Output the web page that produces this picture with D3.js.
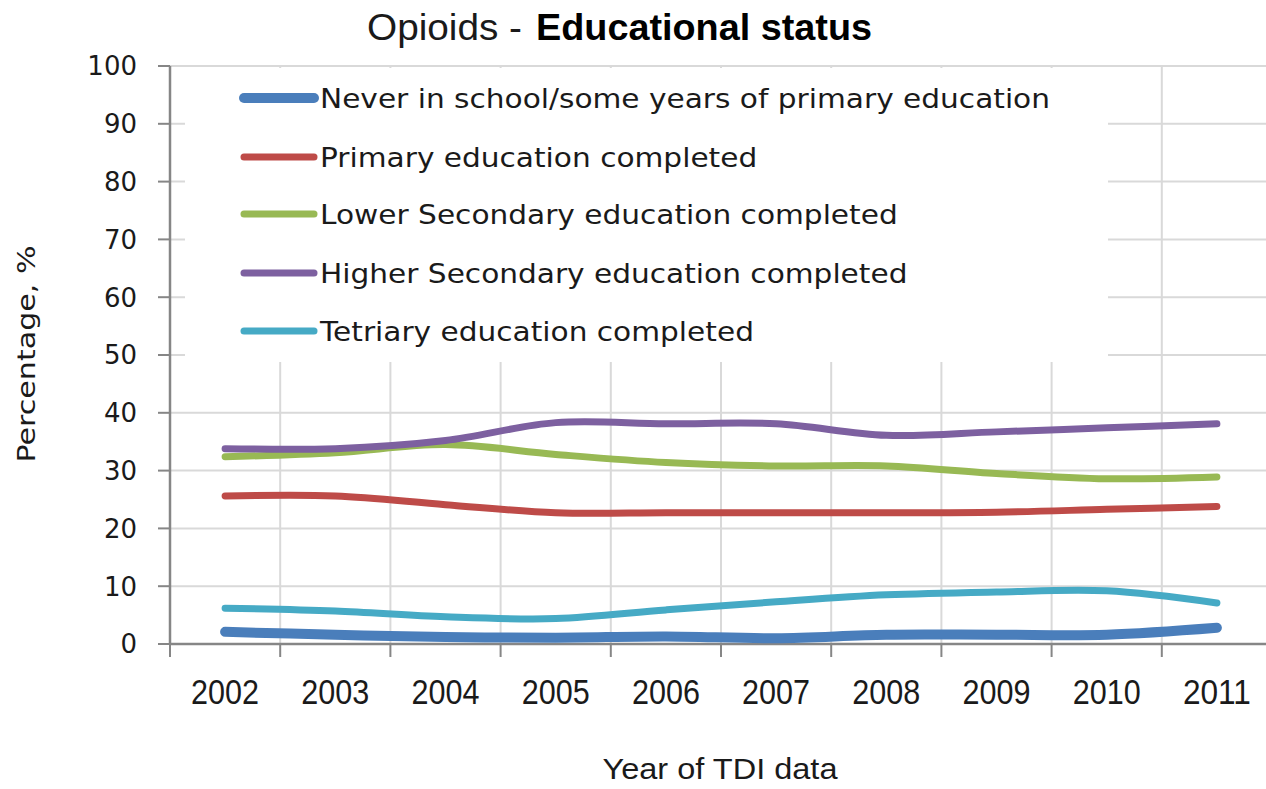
<!DOCTYPE html>
<html>
<head>
<meta charset="utf-8">
<script src="https://cdn.jsdelivr.net/npm/d3@7/dist/d3.min.js"></script>
<style>
  html, body { margin: 0; padding: 0; background: #fff; }
  svg { display: block; }
</style>
</head>
<body>
<svg id="chart" width="1266" height="789"></svg>
<script>
// Opioid clients by educational status, TDI data 2002-2011 (percent)
const years = ["2002","2003","2004","2005","2006","2007","2008","2009","2010","2011"];
const seriesNames = [
  "Never in school/some years of primary education",
  "Primary education completed",
  "Lower Secondary education completed",
  "Higher Secondary education completed",
  "Tetriary education completed"
];
const neverInSchool   = [2.1, 1.6, 1.2, 1.1, 1.3, 1.0, 1.6, 1.6, 1.6, 2.8];
const primary         = [25.6, 25.6, 24.1, 22.7, 22.7, 22.7, 22.7, 22.8, 23.3, 23.8];
const lowerSecondary  = [32.4, 33.1, 34.5, 32.8, 31.4, 30.8, 30.8, 29.5, 28.6, 28.9];
const higherSecondary = [33.8, 33.8, 35.2, 38.3, 38.1, 38.1, 36.1, 36.7, 37.4, 38.1];
const tertiary        = [6.2, 5.7, 4.7, 4.4, 5.9, 7.3, 8.5, 9.0, 9.2, 7.1];
const yTicks = [0, 10, 20, 30, 40, 50, 60, 70, 80, 90, 100];
const colors = ["#4A7EBB", "#BE4B48", "#98B954", "#7D60A0", "#46AAC5"];

const seriesValues = [neverInSchool, primary, lowerSecondary, higherSecondary, tertiary];

const svg = d3.select("#chart");
svg.append("rect").attr("width", 1266).attr("height", 789).attr("fill", "#fff");

const plotLeft = 170, plotRight = 1272, plotTop = 66, plotBottom = 644;
const x = d3.scaleBand().domain(years).range([plotLeft, plotRight]);
const y = d3.scaleLinear().domain([0, 100]).range([plotBottom, plotTop]);

// grid
const grid = svg.append("g");
grid.selectAll("line.h").data(yTicks.filter(t => t > 0)).join("line")
  .attr("x1", plotLeft).attr("x2", plotRight)
  .attr("y1", d => y(d)).attr("y2", d => y(d))
  .attr("stroke", "#d9d9d9").attr("stroke-width", 2);
grid.selectAll("line.v").data(d3.range(1, years.length + 1)).join("line")
  .attr("x1", i => plotLeft + x.step() * i)
  .attr("x2", i => plotLeft + x.step() * i)
  .attr("y1", plotTop).attr("y2", plotBottom)
  .attr("stroke", "#d9d9d9").attr("stroke-width", 2);

// legend box (white, drawn over the grid)
const legend = svg.append("g");
legend.append("rect")
  .attr("x", 185).attr("y", 68).attr("width", 923).attr("height", 294)
  .attr("fill", "#fff");

const legendRowY = [98, 157, 214, 273, 331];
const legendFont = "DejaVu Sans, Verdana, sans-serif";
const rows = legend.selectAll("g.row").data(seriesNames).join("g");
rows.append("line")
  .attr("x1", 244).attr("x2", 314)
  .attr("y1", (d, i) => legendRowY[i]).attr("y2", (d, i) => legendRowY[i])
  .attr("stroke", (d, i) => colors[i])
  .attr("stroke-width", (d, i) => i === 0 ? 10 : 7)
  .attr("stroke-linecap", "round");
const legendTexts = rows.append("text")
  .attr("x", 320).attr("y", (d, i) => legendRowY[i] + 10)
  .attr("font-family", legendFont).attr("font-size", 27)
  .attr("fill", "#1a1a1a")
  .text(d => d);
// stretch the labels uniformly so the longest spans its row
const longest = legendTexts.nodes()[0].getComputedTextLength();
const stretch = 730 / longest;
legendTexts.each(function () {
  const w = this.getComputedTextLength();
  d3.select(this).attr("textLength", w * stretch).attr("lengthAdjust", "spacingAndGlyphs");
});

// axes
const axisColor = "#868686";
const yAxis = svg.append("g");
yAxis.append("line").attr("x1", plotLeft).attr("x2", plotLeft).attr("y1", plotTop).attr("y2", plotBottom)
  .attr("stroke", axisColor).attr("stroke-width", 2.5);
yAxis.selectAll("line.t").data(yTicks).join("line")
  .attr("x1", 158).attr("x2", plotLeft)
  .attr("y1", d => y(d)).attr("y2", d => y(d))
  .attr("stroke", axisColor).attr("stroke-width", 2);
yAxis.selectAll("text").data(yTicks).join("text")
  .attr("x", 137).attr("y", d => y(d))
  .attr("dy", "0.36em")
  .attr("text-anchor", "end")
  .attr("font-family", legendFont).attr("font-size", 26)
  .attr("fill", "#1a1a1a")
  .text(d => d);

const xAxis = svg.append("g");
xAxis.append("line").attr("x1", plotLeft).attr("x2", plotRight).attr("y1", plotBottom).attr("y2", plotBottom)
  .attr("stroke", axisColor).attr("stroke-width", 2.5);
xAxis.selectAll("line.t").data(d3.range(years.length + 1)).join("line")
  .attr("x1", i => plotLeft + x.step() * i).attr("x2", i => plotLeft + x.step() * i)
  .attr("y1", plotBottom).attr("y2", plotBottom + 13)
  .attr("stroke", axisColor).attr("stroke-width", 2);
const narrowFont = "Liberation Sans Narrow, Liberation Sans, Arial, sans-serif";
xAxis.selectAll("text").data(years).join("text")
  .attr("x", d => x(d) + x.bandwidth() / 2).attr("y", 704)
  .attr("text-anchor", "middle")
  .attr("font-family", narrowFont).attr("font-size", 35)
  .attr("fill", "#1a1a1a")
  .attr("textLength", 68).attr("lengthAdjust", "spacingAndGlyphs")
  .text(d => d);

// series lines
const line = d3.line()
  .x((d, i) => x(years[i]) + x.bandwidth() / 2)
  .y(d => y(d))
  .curve(d3.curveCatmullRom.alpha(0.5));
const drawOrder = [4, 1, 2, 3, 0];
svg.append("g").selectAll("path").data(drawOrder).join("path")
  .attr("d", i => line(seriesValues[i]))
  .attr("fill", "none")
  .attr("stroke", i => colors[i])
  .attr("stroke-width", i => i === 0 ? 10 : 7)
  .attr("stroke-linecap", "round")
  .attr("stroke-linejoin", "round");

// titles
svg.append("text").attr("x", 367).attr("y", 40)
  .attr("font-family", narrowFont).attr("font-size", 36)
  .attr("fill", "#1a1a1a")
  .attr("textLength", 155).attr("lengthAdjust", "spacingAndGlyphs")
  .text("Opioids -");
svg.append("text").attr("x", 536).attr("y", 40)
  .attr("font-family", narrowFont).attr("font-size", 36).attr("font-weight", "bold")
  .attr("fill", "#000")
  .attr("textLength", 336).attr("lengthAdjust", "spacingAndGlyphs")
  .text("Educational status");

svg.append("text").attr("x", 720).attr("y", 779)
  .attr("text-anchor", "middle")
  .attr("font-family", narrowFont).attr("font-size", 29)
  .attr("fill", "#1a1a1a")
  .attr("textLength", 235).attr("lengthAdjust", "spacingAndGlyphs")
  .text("Year of TDI data");

svg.append("text")
  .attr("transform", "translate(35,354) rotate(-90)")
  .attr("text-anchor", "middle")
  .attr("font-family", legendFont).attr("font-size", 25)
  .attr("fill", "#1a1a1a")
  .attr("textLength", 217).attr("lengthAdjust", "spacingAndGlyphs")
  .text("Percentage, %");
</script>
</body>
</html>
